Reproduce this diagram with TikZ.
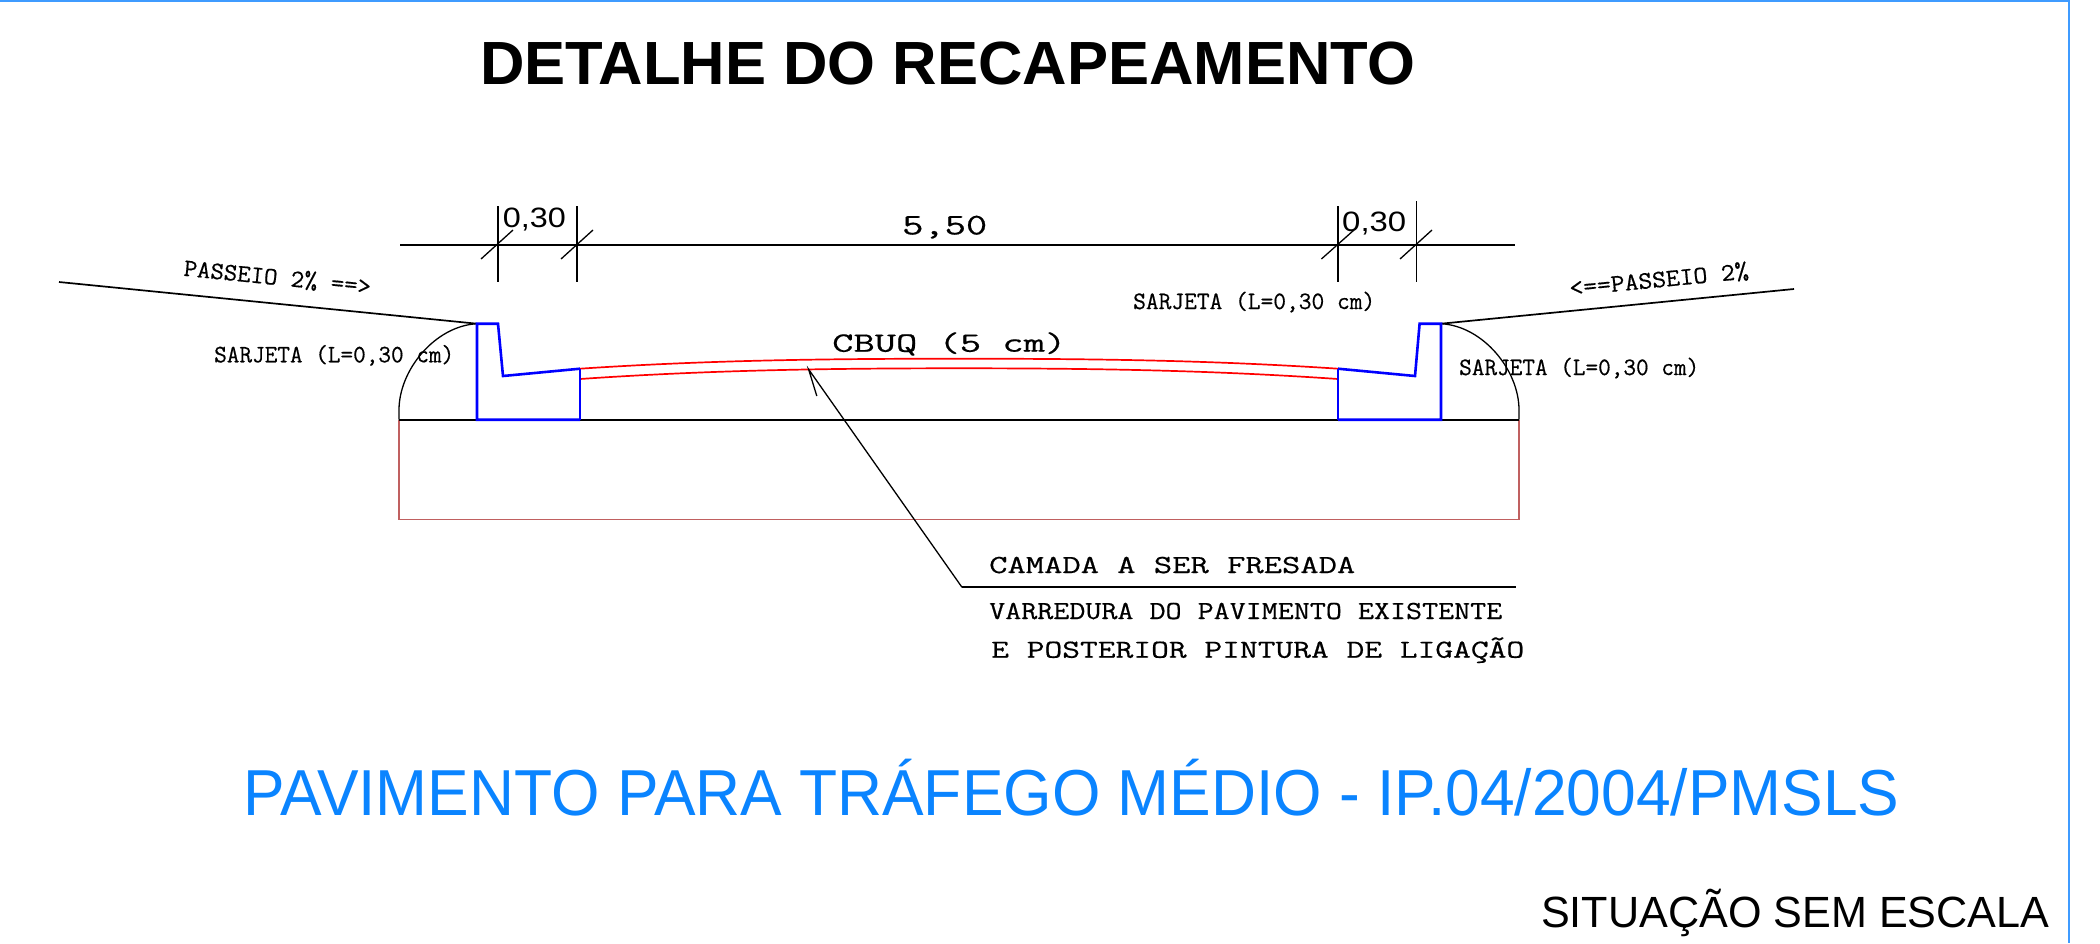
\documentclass[tikz,border=0pt]{standalone}
\usepackage{fontspec}
\usepackage{graphicx}
\setmainfont{Liberation Sans}
\newfontfamily\cadfont[FakeBold=0.5]{Latin Modern Mono}
\newsavebox\fitbox
% width, font size, font, text : the text is stretched sideways to the given width
\newcommand\fitgen[4]{\sbox\fitbox{\fontsize{#2}{#2}\selectfont#3#4}\resizebox{#1}{\ht\fitbox}{\usebox\fitbox}}
\newcommand\fitw[3]{\fitgen{#1}{#2}{\cadfont}{#3}}
\definecolor{cadblue}{HTML}{0000FF}
\definecolor{cadred}{HTML}{FF0000}
\definecolor{cadbrown}{HTML}{C06060}
\definecolor{framecol}{HTML}{3F9BFF}
\definecolor{titleblue}{HTML}{0A84FF}
\tikzset{
  x=1pt,y=-1pt,
  inkline/.style={draw=black,line width=1.7pt},
  thinline/.style={draw=black,line width=1.3pt},
  curbline/.style={draw=cadblue,line width=2.6pt,line join=miter},
  curbthin/.style={draw=cadblue,line width=1.8pt},
  layerline/.style={draw=cadred,line width=1.7pt},
  baseline box/.style={draw=cadbrown,line width=1.3pt},
  framing/.style={draw=framecol,line width=1.6pt},
  framingb/.style={draw=framecol,line width=2.4pt},
  cadtext/.style={inner sep=0pt,anchor=base west},
}
\begin{document}
\begin{tikzpicture}
\useasboundingbox (0,0) rectangle (2100,943);
\fill[white] (0,0) rectangle (2100,943);
\draw[framing] (0,0.8) -- (2069,0.8);
\draw[framingb] (2069,0) -- (2069,943);
% base box
\draw[baseline box] (399,419.7) -- (399,519.7) -- (1519,519.7) -- (1519,419.7);
\draw[inkline] (399,419.7) -- (1519,419.7);
% shoulders
\draw[thinline] (399,419.7) -- (399,410) .. controls (399,370) and (435,326) .. (477,323.7);
\draw[thinline] (1519,419.7) -- (1519,410) .. controls (1519,370) and (1483,326) .. (1441,323.7);
\draw[inkline] (59,282) -- (477,323.7);
\draw[inkline] (1441,323.7) -- (1794,289);
% CBUQ layers
\draw[layerline] (580,368.7) .. controls (710,360) and (830,358.7) .. (959,358.7) .. controls (1088,358.7) and (1208,360) .. (1338,368.7);
\draw[layerline] (580,379) .. controls (710,370) and (830,368.3) .. (959,368.3) .. controls (1088,368.3) and (1208,370) .. (1338,379);
% curbs
\draw[curbline] (580,368.7) -- (503,376) -- (498,323.7) -- (477,323.7) -- (477,419.7) -- (580,419.7);
\draw[curbthin] (580,368.7) -- (580,419.7);
\draw[curbline] (1338,368.7) -- (1415,376) -- (1419.6,323.7) -- (1441,323.7) -- (1441,419.7) -- (1338,419.7);
\draw[curbthin] (1338,368.7) -- (1338,419.7);
% dimensions
\draw[inkline] (400,244.7) -- (1514.7,244.7);
\draw[thinline] (498,206) -- (498,282);
\draw[thinline] (577,206) -- (577,282);
\draw[thinline] (1338,206) -- (1338,282);
\draw[thinline] (1416.5,201) -- (1416.5,282);
\draw[thinline] (481,259) -- (513,230);
\draw[thinline] (561,259) -- (593,230);
\draw[thinline] (1321.4,259) -- (1354,230);
\draw[thinline] (1400,259) -- (1432,230);
% leader
\coordinate (tip) at (808.6,369.3);
\coordinate (elbow) at (962,587.3);
\coordinate (tail) at (1515.7,587.3);
\coordinate (barb) at (816.8,396);
\draw[thinline] (barb) -- (tip) -- (elbow);
\draw[inkline] (elbow) -- (tail);
% texts
\node[cadtext] (titletext) at (480,84.3) {\fitgen{935pt}{61}{\bfseries}{DETALHE DO RECAPEAMENTO}};
\node[cadtext,text=titleblue] (bluetext) at (243,815) {\fitgen{1656pt}{65}{}{PAVIMENTO PARA TRÁFEGO MÉDIO - IP.04/2004/PMSLS}};
\node[cadtext] (scaletext) at (1541,927) {\fitgen{508pt}{43.7}{}{SITUAÇÃO SEM ESCALA}};
\node[cadtext] (dima) at (502.6,227) {\fitgen{63pt}{28}{}{0,30}};
\node[cadtext] (dimb) at (902,234.4) {\fitw{85pt}{30}{5,50}};
\node[cadtext] (dimc) at (1342,231.7) {\fitgen{64pt}{28}{}{0,30}};
\node[cadtext,rotate=-5.7] (passa) at (183,275.7) {\fitw{188pt}{25}{PASSEIO 2\% ==>}};
\node[cadtext,rotate=5.6] (passb) at (1570,296) {\fitw{180pt}{25}{<==PASSEIO 2\%}};
\node[cadtext] (sarja) at (214,362.3) {\fitw{240pt}{25}{SARJETA (L=0,30 cm)}};
\node[cadtext] (sarjb) at (1459,375) {\fitw{240pt}{25}{SARJETA (L=0,30 cm)}};
\node[cadtext] (sarjc) at (1133,309) {\fitw{242pt}{25}{SARJETA (L=0,30 cm)}};
\node[cadtext] (cbuq) at (832,351.7) {\fitw{234pt}{28}{CBUQ (5 cm)}};
\node[cadtext] (cam) at (989,573) {\fitw{366pt}{26}{CAMADA A SER FRESADA}};
\node[cadtext] (var) at (989,619) {\fitw{513pt}{26}{VARREDURA DO PAVIMENTO EXISTENTE}};
\node[cadtext] (pos) at (991,657.7) {\fitw{533pt}{26}{E POSTERIOR PINTURA DE LIGAÇÃO}};
\end{tikzpicture}
\end{document}
